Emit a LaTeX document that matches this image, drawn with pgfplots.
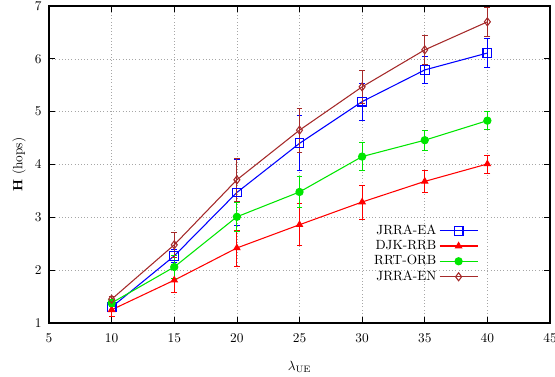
\documentclass[border=0pt]{standalone}
\usepackage{pgfplots}
\pgfplotsset{compat=1.18}
\definecolor{cgreen}{RGB}{0,230,0}
\definecolor{cbrown}{RGB}{165,42,42}
\begin{document}
\begin{tikzpicture}
\begin{axis}[
  scale only axis,
  width=375.75pt, height=237.75pt,
  xmin=5, xmax=45, ymin=1, ymax=7,
  xtick={5,10,...,45}, ytick={1,2,...,7},
  grid=major,
  grid style={dotted, gray!70},
  axis line style={line width=0.8pt},
  tick style={black, line width=0.5pt},
  xticklabel style={yshift=-5pt},
  yticklabel style={xshift=-2pt},
  xlabel={$\lambda_{\mathrm{UE}}$},
  xlabel style={yshift=-7pt},
  ylabel={\textbf{H} (hops)},
  every axis plot/.append style={line width=0.8pt},
  error bars/error bar style={line width=0.6pt},
  error bars/error mark options={rotate=90, mark size=2.2pt, line width=0.6pt},
  legend style={draw=none, fill=none, at={(0.865,0.11)}, anchor=south east,
     legend cell align=right, row sep=-1pt, font=\normalsize},
  legend plot pos=right,
  legend image code/.code={\draw[mark repeat=2, mark phase=2] plot coordinates {(0cm,0cm) (0.5cm,0cm) (1.0cm,0cm)};},
]
\addplot+[blue, mark=square, mark size=3.3pt, mark options={solid, line width=0.8pt},
  error bars/.cd, y dir=both, y explicit]
  coordinates {(10,1.30) +- (0,0.08) (15,2.27) +- (0,0.12) (20,3.47) +- (0,0.63)
   (25,4.40) +- (0,0.52) (30,5.19) +- (0,0.35) (35,5.79) +- (0,0.26) (40,6.11) +- (0,0.28)};
\addlegendentry{JRRA-EA}
\addplot+[red, mark=triangle*, mark size=2.6pt, mark options={solid, fill=red},
  error bars/.cd, y dir=both, y explicit]
  coordinates {(10,1.25) +- (0,0.12) (15,1.81) +- (0,0.23) (20,2.42) +- (0,0.34)
   (25,2.86) +- (0,0.40) (30,3.29) +- (0,0.32) (35,3.68) +- (0,0.21) (40,4.01) +- (0,0.17)};
\addlegendentry{DJK-RRB}
\addplot+[cgreen, mark=*, mark size=2.7pt, mark options={solid, fill=cgreen, draw=cgreen},
  error bars/.cd, y dir=both, y explicit]
  coordinates {(10,1.38) +- (0,0.07) (15,2.06) +- (0,0.22) (20,3.01) +- (0,0.27)
   (25,3.48) +- (0,0.30) (30,4.15) +- (0,0.26) (35,4.46) +- (0,0.19) (40,4.83) +- (0,0.17)};
\addlegendentry{RRT-ORB}
\addplot+[cbrown, mark=diamond, mark size=3pt, mark options={solid, line width=0.8pt},
  error bars/.cd, y dir=both, y explicit]
  coordinates {(10,1.45) +- (0,0.06) (15,2.48) +- (0,0.24) (20,3.71) +- (0,0.40)
   (25,4.65) +- (0,0.42) (30,5.47) +- (0,0.32) (35,6.17) +- (0,0.27) (40,6.70) +- (0,0.28)};
\addlegendentry{JRRA-EN}
\end{axis}
\pgfresetboundingbox
\path ([xshift=-36.75pt,yshift=-40.5pt]current axis.south west) rectangle ([xshift=3.75pt,yshift=4.5pt]current axis.north east);
\end{tikzpicture}
\end{document}
